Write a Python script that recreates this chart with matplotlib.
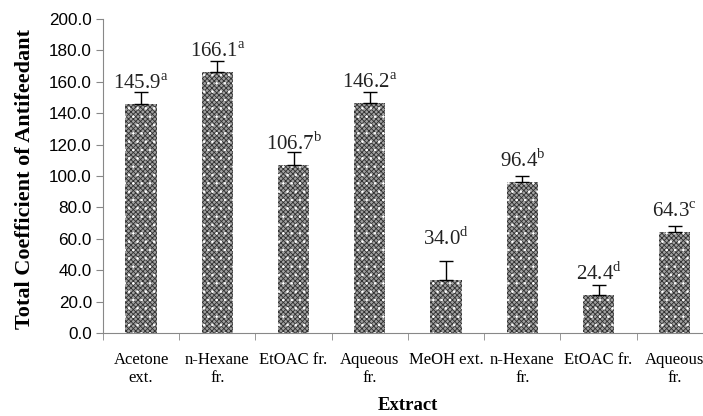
import numpy as np
import matplotlib
matplotlib.use("Agg")
import matplotlib.pyplot as plt

# data
extracts = ["Acetone\next.", "n-Hexane\nfr.", "EtOAC fr.", "Aqueous\nfr.",
            "MeOH ext.", "n-Hexane\nfr.", "EtOAC fr.", "Aqueous\nfr."]
coefficient = [145.9, 166.1, 106.7, 146.2, 34.0, 96.4, 24.4, 64.3]
errors = [7.8, 7.3, 8.5, 7.6, 12.0, 3.8, 6.0, 4.0]
letters = ["a", "a", "b", "a", "d", "b", "d", "c"]
y_ticks = [0, 20, 40, 60, 80, 100, 120, 140, 160, 180, 200]

plt.rcParams['mathtext.fontset'] = 'custom'
plt.rcParams['mathtext.rm'] = 'Liberation Serif'
plt.rcParams['hatch.linewidth'] = 0.6

fig = plt.figure(figsize=(7.03, 4.16), dpi=100)
ax = fig.add_axes([0.1465, 0.1995, 0.8677, 0.7548])

x = np.arange(len(coefficient))
# fine dark checker texture with white dots on top
ax.bar(x, coefficient, width=0.41, color='#a0a0a0', edgecolor='#303030',
       hatch='xxxxxxx', linewidth=0)
ax.bar(x, coefficient, width=0.41, color='none', edgecolor='white',
       hatch='..', linewidth=0)
# error bars, upper only
ax.errorbar(x, coefficient, yerr=[np.zeros(len(errors)), errors], fmt='none',
            ecolor='black', elinewidth=1, capsize=4.7, capthick=1)

# value labels, MeOH one was lifted clear of its error bar
lift = [0, 0, 0, 0, 20, 0, 0, 0]
for xi, v, l, d in zip(x, coefficient, letters, lift):
    ax.annotate("%.1f$^{\\mathrm{%s}}$" % (v, l), (xi, v), xytext=(0, 11 + d * 0.72),
                textcoords='offset points', ha='center', va='baseline',
                fontsize=15, family='Liberation Serif', color='#222222')

ax.set_xlim(-0.5, len(coefficient) - 0.5)
ax.set_ylim(0, 200)
ax.set_yticks(y_ticks)
ax.set_yticklabels(["%.1f" % t for t in y_ticks], family='Liberation Sans', fontsize=12.3)
ax.set_xticks(x)
ax.set_xticklabels(extracts, family='Liberation Serif', fontsize=12, linespacing=1.15)
ax.set_xticks(np.arange(len(coefficient) + 1) - 0.5, minor=True)
ax.tick_params(axis='x', which='major', length=0, pad=14)
ax.tick_params(axis='x', which='minor', length=5, color='#888888', direction='out')
ax.tick_params(axis='y', length=5, color='#888888', direction='out', pad=3)

for s in ['top', 'right']:
    ax.spines[s].set_visible(False)
for s in ['left', 'bottom']:
    ax.spines[s].set_color('#888888')

ax.set_xlabel("Extract", family='Liberation Serif', fontweight='bold', fontsize=13.5)
ax.xaxis.set_label_coords(0.5, -0.205)
ax.set_ylabel("Total Coefficient of Antifeedant", family='Liberation Serif',
              fontweight='bold', fontsize=16)
ax.yaxis.set_label_coords(-0.112, 0.49)

fig.savefig('out.png', dpi=100)
